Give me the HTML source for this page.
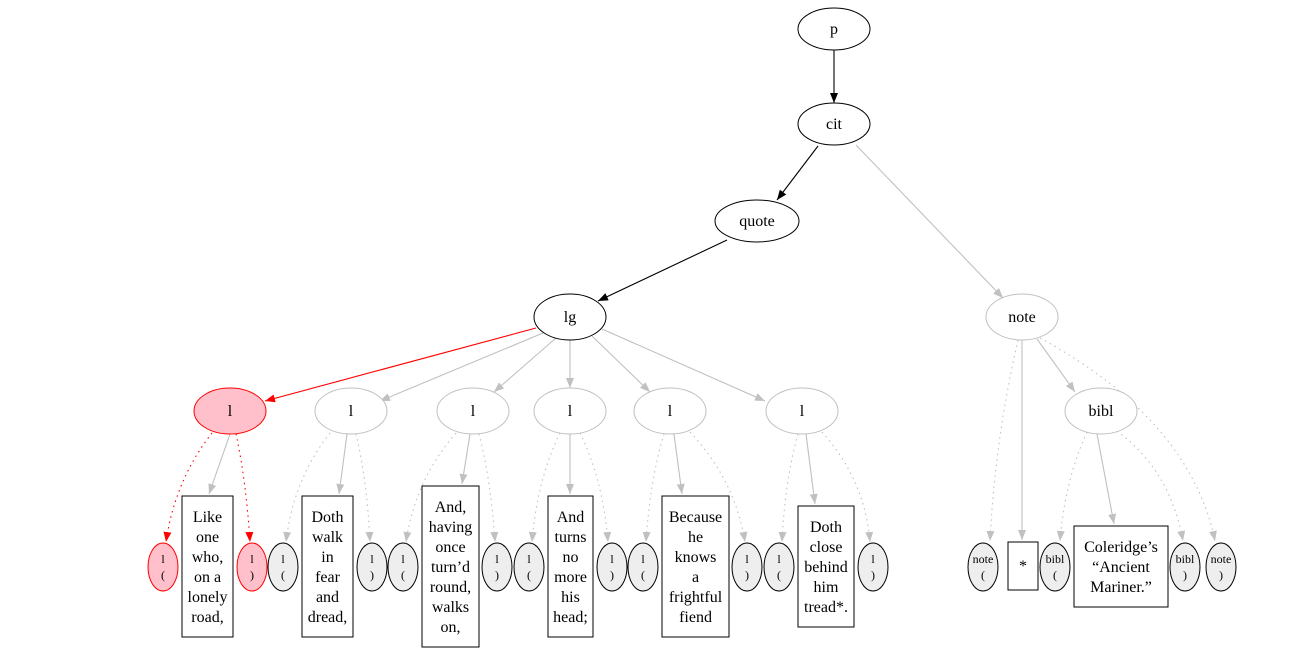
<!DOCTYPE html>
<html><head><meta charset="utf-8"><style>body{margin:0;background:#fff}svg{display:block}text{font-family:"Liberation Serif",serif;text-anchor:middle}</style></head><body>
<svg width="1309" height="653" viewBox="0 0 1309 653" xmlns="http://www.w3.org/2000/svg">
<defs>
<marker id="ab" markerWidth="10" markerHeight="8" refX="10" refY="4" orient="auto" markerUnits="userSpaceOnUse"><path d="M0,0L10,4L0,8z" fill="#000"/></marker>
<marker id="ag" markerWidth="10" markerHeight="8" refX="10" refY="4" orient="auto" markerUnits="userSpaceOnUse"><path d="M0,0L10,4L0,8z" fill="#c0c0c0"/></marker>
<marker id="ar" markerWidth="10" markerHeight="8" refX="10" refY="4" orient="auto" markerUnits="userSpaceOnUse"><path d="M0,0L10,4L0,8z" fill="#f00"/></marker>
</defs>
<g stroke-width="1.1" fill="none">
<line x1="834" y1="50" x2="834" y2="103" stroke="#000" marker-end="url(#ab)"/>
<line x1="818" y1="146" x2="777" y2="200" stroke="#000" marker-end="url(#ab)"/>
<line x1="727" y1="240" x2="598" y2="301" stroke="#000" marker-end="url(#ab)"/>
<line x1="856" y1="145" x2="1003" y2="298" stroke="#c0c0c0" marker-end="url(#ag)"/>
<line x1="536" y1="328" x2="265" y2="401" stroke="#f00" marker-end="url(#ar)"/>
<line x1="543" y1="333" x2="380" y2="401" stroke="#c0c0c0" marker-end="url(#ag)"/>
<line x1="556" y1="338" x2="494" y2="392" stroke="#c0c0c0" marker-end="url(#ag)"/>
<line x1="570" y1="340" x2="570" y2="388" stroke="#c0c0c0" marker-end="url(#ag)"/>
<line x1="592" y1="336" x2="650" y2="392" stroke="#c0c0c0" marker-end="url(#ag)"/>
<line x1="602" y1="329" x2="765" y2="401" stroke="#c0c0c0" marker-end="url(#ag)"/>
<line x1="1022" y1="340" x2="1022" y2="540" stroke="#c0c0c0" marker-end="url(#ag)"/>
<line x1="1037" y1="339" x2="1075" y2="392" stroke="#c0c0c0" marker-end="url(#ag)"/>
<line x1="1097" y1="434" x2="1114" y2="524" stroke="#c0c0c0" marker-end="url(#ag)"/>
<!-- l solid edges -->
<line x1="230" y1="434" x2="209" y2="494" stroke="#c0c0c0" marker-end="url(#ag)"/>
<line x1="347" y1="434" x2="339" y2="494" stroke="#c0c0c0" marker-end="url(#ag)"/>
<line x1="470" y1="434" x2="462" y2="484" stroke="#c0c0c0" marker-end="url(#ag)"/>
<line x1="570" y1="434" x2="570" y2="494" stroke="#c0c0c0" marker-end="url(#ag)"/>
<line x1="674" y1="434" x2="682" y2="494" stroke="#c0c0c0" marker-end="url(#ag)"/>
<line x1="806" y1="434" x2="815" y2="504" stroke="#c0c0c0" marker-end="url(#ag)"/>
</g>
<g stroke-width="1.1" fill="none" stroke-dasharray="1.5,4">
<path d="M212,433 Q175,480 166,542" stroke="#f00" marker-end="url(#ar)"/>
<path d="M236,434 Q246,480 250,542" stroke="#f00" marker-end="url(#ar)"/>
<path d="M330,433 Q293,480 286,542" stroke="#c0c0c0" marker-end="url(#ag)"/>
<path d="M356,434 Q367,480 370,542" stroke="#c0c0c0" marker-end="url(#ag)"/>
<path d="M456,433 Q415,480 406,542" stroke="#c0c0c0" marker-end="url(#ag)"/>
<path d="M479,434 Q491,480 495,542" stroke="#c0c0c0" marker-end="url(#ag)"/>
<path d="M560,433 Q537,480 532,542" stroke="#c0c0c0" marker-end="url(#ag)"/>
<path d="M580,433 Q603,480 608,542" stroke="#c0c0c0" marker-end="url(#ag)"/>
<path d="M664,434 Q650,480 646,542" stroke="#c0c0c0" marker-end="url(#ag)"/>
<path d="M690,432 Q735,480 745,542" stroke="#c0c0c0" marker-end="url(#ag)"/>
<path d="M798,434 Q785,480 782,542" stroke="#c0c0c0" marker-end="url(#ag)"/>
<path d="M822,432 Q865,480 870,542" stroke="#c0c0c0" marker-end="url(#ag)"/>
<path d="M1018,340 Q995,440 990,541" stroke="#c0c0c0" marker-end="url(#ag)"/>
<path d="M1040,338 Q1190,420 1215,541" stroke="#c0c0c0" marker-end="url(#ag)"/>
<path d="M1087,432 Q1065,480 1060,541" stroke="#c0c0c0" marker-end="url(#ag)"/>
<path d="M1117,431 Q1170,470 1183,541" stroke="#c0c0c0" marker-end="url(#ag)"/>
</g>
<g font-size="16">
<ellipse cx="834" cy="29" rx="36" ry="21" fill="#fff" stroke="#000"/><text x="834" y="34">p</text>
<ellipse cx="834" cy="124" rx="36" ry="21" fill="#fff" stroke="#000"/><text x="834" y="129">cit</text>
<ellipse cx="757" cy="221" rx="42" ry="21" fill="#fff" stroke="#000"/><text x="757" y="226">quote</text>
<ellipse cx="570" cy="317" rx="36" ry="23" fill="#fff" stroke="#000"/><text x="570" y="322">lg</text>
<ellipse cx="1022" cy="317" rx="36" ry="23" fill="#fff" stroke="#c0c0c0"/><text x="1022" y="322">note</text>
<ellipse cx="230" cy="411" rx="36" ry="23" fill="#ffc0cb" stroke="#f00"/><text x="230" y="416">l</text>
<ellipse cx="351" cy="411" rx="36" ry="23" fill="#fff" stroke="#c0c0c0"/><text x="351" y="416">l</text>
<ellipse cx="473" cy="411" rx="36" ry="23" fill="#fff" stroke="#c0c0c0"/><text x="473" y="416">l</text>
<ellipse cx="570" cy="411" rx="36" ry="23" fill="#fff" stroke="#c0c0c0"/><text x="570" y="416">l</text>
<ellipse cx="670" cy="411" rx="36" ry="23" fill="#fff" stroke="#c0c0c0"/><text x="670" y="416">l</text>
<ellipse cx="802" cy="411" rx="36" ry="23" fill="#fff" stroke="#c0c0c0"/><text x="802" y="416">l</text>
<ellipse cx="1101" cy="411" rx="36" ry="23" fill="#fff" stroke="#c0c0c0"/><text x="1101" y="416">bibl</text>
<g fill="#fff" stroke="#000">
<rect x="182" y="496" width="51" height="141"/><rect x="302" y="496" width="51" height="141"/>
<rect x="422" y="486" width="57" height="161"/><rect x="548" y="496" width="45" height="141"/>
<rect x="662" y="496" width="67" height="141"/><rect x="798" y="506" width="56" height="121"/>
<rect x="1008" y="542" width="30" height="48"/><rect x="1074" y="526" width="94" height="81"/>
</g>
<text x="207.5" y="522">Like</text><text x="207.5" y="542">one</text><text x="207.5" y="562">who,</text><text x="207.5" y="582">on a</text><text x="207.5" y="602">lonely</text><text x="207.5" y="622">road,</text>
<text x="327.5" y="522">Doth</text><text x="327.5" y="542">walk</text><text x="327.5" y="562">in</text><text x="327.5" y="582">fear</text><text x="327.5" y="602">and</text><text x="327.5" y="622">dread,</text>
<text x="450.5" y="512">And,</text><text x="450.5" y="532">having</text><text x="450.5" y="552">once</text><text x="450.5" y="572">turn’d</text><text x="450.5" y="592">round,</text><text x="450.5" y="612">walks</text><text x="450.5" y="632">on,</text>
<text x="570.5" y="522">And</text><text x="570.5" y="542">turns</text><text x="570.5" y="562">no</text><text x="570.5" y="582">more</text><text x="570.5" y="602">his</text><text x="570.5" y="622">head;</text>
<text x="695.5" y="522">Because</text><text x="695.5" y="542">he</text><text x="695.5" y="562">knows</text><text x="695.5" y="582">a</text><text x="695.5" y="602">frightful</text><text x="695.5" y="622">fiend</text>
<text x="826" y="532">Doth</text><text x="826" y="552">close</text><text x="826" y="572">behind</text><text x="826" y="592">him</text><text x="826" y="612">tread*.</text>
<text x="1023" y="571">*</text>
<text x="1121" y="552">Coleridge’s</text><text x="1121" y="572">“Ancient</text><text x="1121" y="592">Mariner.”</text>
</g>
<g font-size="12">
<g fill="#ffc0cb" stroke="#f00"><ellipse cx="163" cy="567" rx="15" ry="24"/><ellipse cx="252" cy="567" rx="15" ry="24"/></g>
<g fill="#eee" stroke="#000">
<ellipse cx="283" cy="567" rx="15" ry="24"/><ellipse cx="372" cy="567" rx="15" ry="24"/>
<ellipse cx="403" cy="567" rx="15" ry="24"/><ellipse cx="497" cy="567" rx="15" ry="24"/>
<ellipse cx="529" cy="567" rx="15" ry="24"/><ellipse cx="612" cy="567" rx="15" ry="24"/>
<ellipse cx="643" cy="567" rx="15" ry="24"/><ellipse cx="747" cy="567" rx="15" ry="24"/>
<ellipse cx="779" cy="567" rx="15" ry="24"/><ellipse cx="873" cy="567" rx="15" ry="24"/>
<ellipse cx="983" cy="567" rx="15" ry="24"/><ellipse cx="1055" cy="567" rx="15" ry="24"/>
<ellipse cx="1185" cy="567" rx="15" ry="24"/><ellipse cx="1221" cy="567" rx="15" ry="24"/>
</g>
<text x="163" y="563">l</text><text x="163" y="579">(</text>
<text x="252" y="563">l</text><text x="252" y="579">)</text>
<text x="283" y="563">l</text><text x="283" y="579">(</text>
<text x="372" y="563">l</text><text x="372" y="579">)</text>
<text x="403" y="563">l</text><text x="403" y="579">(</text>
<text x="497" y="563">l</text><text x="497" y="579">)</text>
<text x="529" y="563">l</text><text x="529" y="579">(</text>
<text x="612" y="563">l</text><text x="612" y="579">)</text>
<text x="643" y="563">l</text><text x="643" y="579">(</text>
<text x="747" y="563">l</text><text x="747" y="579">)</text>
<text x="779" y="563">l</text><text x="779" y="579">(</text>
<text x="873" y="563">l</text><text x="873" y="579">)</text>
<text x="983" y="563">note</text><text x="983" y="579">(</text>
<text x="1055" y="563">bibl</text><text x="1055" y="579">(</text>
<text x="1185" y="563">bibl</text><text x="1185" y="579">)</text>
<text x="1221" y="563">note</text><text x="1221" y="579">)</text>
</g>
</svg>
</body></html>
